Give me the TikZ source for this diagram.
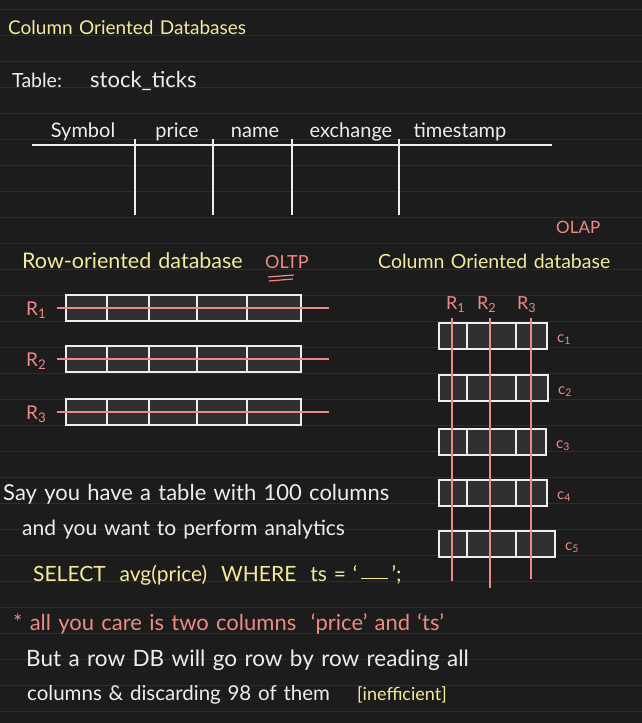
\documentclass[tikz,border=0pt]{standalone}
\usepackage{fontspec}
\setmainfont{Lato}
\usetikzlibrary{positioning,calc}
\definecolor{board}{HTML}{1C1C1C}
\definecolor{ruling}{HTML}{2D2D2D}
\definecolor{chalk}{HTML}{EDEDED}
\definecolor{lemon}{HTML}{F2EB9A}
\definecolor{salmon}{HTML}{EE8A85}
\definecolor{cellgray}{HTML}{303030}
\newcommand\handsize[1]{\fontsize{#1}{#1}\selectfont\spaceskip=0.33em\relax}

\begin{document}
\begin{tikzpicture}[x=1pt, y=-1pt,
    fsize/.style={font={\handsize{#1}}},
    chalktext/.style={anchor=base west, inner sep=0pt, text=chalk, fsize=22},
    lemontext/.style={chalktext, text=lemon},
    salmontext/.style={chalktext, text=salmon},
    cellbox/.style={draw=chalk, fill=cellgray, line width=1.3pt},
    cellline/.style={draw=chalk, line width=1.3pt},
    pinkline/.style={draw=salmon, line width=1.2pt},
    ruleline/.style={draw=ruling, line width=1pt}]
    \useasboundingbox (0,0) rectangle (642,723);
    \fill[board] (0,0) rectangle (642,723);
    \foreach \k in {0,...,27}
        \draw[ruleline] (0,{9+26*\k}) -- (642,{9+26*\k});

    % heading and table
    \node (title) [lemontext, fsize=19] at (8,34) {Column Oriented Databases};
    \node (tablelbl) [chalktext, fsize=19.5] at (12,87) {Table:};
    \node (tablename) [chalktext] at (90,87) {stock\_ticks};

    \node (hsymbol) [chalktext, fsize=20, anchor=base] at (83,137) {Symbol};
    \node (hprice) [chalktext, fsize=20, anchor=base] at (177,137) {price};
    \node (hname) [chalktext, fsize=20, anchor=base] at (255,137) {name};
    \node (hexchange) [chalktext, fsize=20, anchor=base] at (351,137) {exchange};
    \node (htimestamp) [chalktext, fsize=20, anchor=base] at (460,137) {timestamp};
    \draw[cellline] (32,145) -- (552,145);
    \foreach \x in {135,213,292,399}
        \draw[cellline] (\x,139) -- (\x,215);

    % row oriented side
    \node (olap) [salmontext, fsize=17] at (556,233) {OLAP};
    \node (rowhead) [lemontext, fsize=21.5] at (22,268) {Row-oriented database};
    \node (oltp) [salmontext, fsize=18, base right=22pt of rowhead] {OLTP};
    \draw[pinkline] ($(oltp.base west)+(3,9)$) -- ++(26,-2);
    \draw[pinkline] ($(oltp.base west)+(4,13)$) -- ++(24,-2);

    \foreach \ytop/\k in {295/1, 346/2, 399/3} {
        \draw[cellbox] (66,\ytop) rectangle (301,\ytop+26);
        \foreach \x in {107,149,197,247}
            \draw[cellline] (\x,\ytop) -- (\x,\ytop+26);
        \draw[pinkline] (57,\ytop+13) -- (329,\ytop+13);
        \node (r\k) [salmontext, fsize=19] at (26,\ytop+20) {R\textsubscript{\k}};
    }

    % column oriented side
    \node (colhead) [lemontext, fsize=19.5] at (378,268) {Column Oriented database};
    \node (cr1) [salmontext, fsize=18] at (446,309) {R\textsubscript{1}};
    \node (cr2) [salmontext, fsize=18] at (477,309) {R\textsubscript{2}};
    \node (cr3) [salmontext, fsize=18] at (517,309) {R\textsubscript{3}};
    \foreach \ytop/\xright/\k in {323/547/1, 375/548/2, 429/546/3, 480/547/4, 531/555/5} {
        \draw[cellbox] (439,\ytop) rectangle (\xright,\ytop+26);
        \foreach \x in {467,516}
            \draw[cellline] (\x,\ytop) -- (\x,\ytop+26);
        \node (c\k) [salmontext, fsize=15] at (\xright+10,\ytop+19) {c\textsubscript{\k}};
    }
    \foreach \x/\yend in {452/581, 490/588, 531/579}
        \draw[pinkline] (\x,318) -- (\x,\yend);

    % notes
    \node (say) [chalktext] at (3,500) {Say you have a table with 100 columns};
    \node (want) [chalktext, fsize=21] at (22,535) {and you want to perform analytics};
    \node (query) [lemontext, fsize=21] at (33,581) {SELECT\ \ avg(price)\ \ WHERE\ \ ts = `\,\rule[0.2ex]{1.3em}{0.9pt}\,';};
    \node (care) [salmontext] at (13,630) {* all you care is two columns\ \ `price' and `ts'};
    \node (rowdb) [chalktext, fsize=22.5] at (26,666) {But a row DB will go row by row reading all};
    \node (discard) [chalktext, fsize=20.5] at (27,700) {columns \& discarding 98 of them};
    \node (ineff) [lemontext, fsize=18] at (357,700) {[inefficient]};
\end{tikzpicture}
\end{document}
